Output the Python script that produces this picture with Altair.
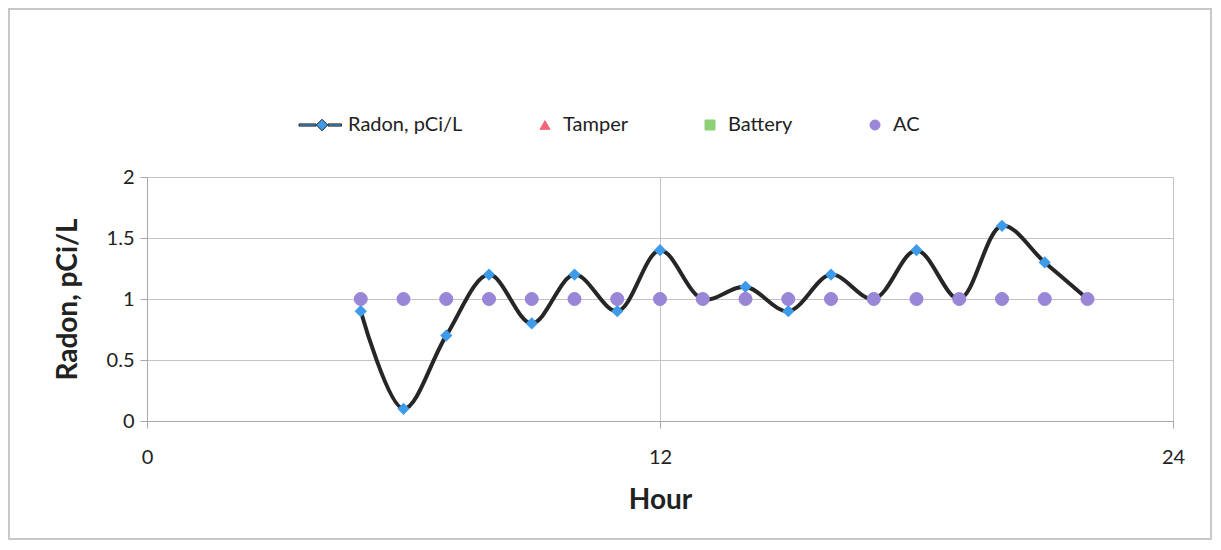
import altair as alt
import pandas as pd

# ---- data ----
hours = [5, 6, 7, 8, 9, 10, 11, 12, 13, 14, 15, 16, 17, 18, 19, 20, 21, 22]
radon = [0.9, 0.1, 0.7, 1.2, 0.8, 1.2, 0.9, 1.4, 1.0, 1.1, 0.9, 1.2, 1.0, 1.4, 1.0, 1.6, 1.3, 1.0]
ac = [1.0, 1.0, 1.0, 1.0, 1.0, 1.0, 1.0, 1.0, 1.0, 1.0, 1.0, 1.0, 1.0, 1.0, 1.0, 1.0, 1.0, 1.0]
series_names = ["Radon, pCi/L", "Tamper", "Battery", "AC"]
x_ticks = [0, 12, 24]
y_ticks = [0, 0.5, 1, 1.5, 2]

# ---- styles ----
BLUE = "#3d9be9"
PINK = "#f4657a"
GREEN = "#8fcf78"
PURPLE = "#9a86d6"
LINE = "#262626"
series_colors = [BLUE, PINK, GREEN, PURPLE]
series_strokes = [LINE, PINK, GREEN, PURPLE]
radon_symbol = ("M-6.2,-0.22L-2.8,-0.22L-2.8,0.22L-6.2,0.22Z "
                "M-0.4,-0.22L2.3,-0.22L2.3,0.22L-0.4,0.22Z "
                "M-1.6,-1.15L-0.45,0L-1.6,1.15L-2.75,0Z")
series_shapes = [radon_symbol, "triangle-up", "square", "circle"]
FONT = "Lato"

radon_df = pd.DataFrame({"hour": hours, "value": radon, "series": series_names[0]})
ac_df = pd.DataFrame({"hour": hours, "value": ac, "series": series_names[3]})

x_enc = alt.X(
    "hour:Q",
    scale=alt.Scale(domain=[0, 24], nice=False, zero=False),
    axis=alt.Axis(values=x_ticks, title="Hour", format="d", labelFlush=False),
)
y_enc = alt.Y(
    "value:Q",
    scale=alt.Scale(domain=[0, 2], nice=False),
    axis=alt.Axis(values=y_ticks, title="Radon, pCi/L", format="~g"),
)

line = alt.Chart(radon_df).mark_line(
    interpolate="catmull-rom", color=LINE, strokeWidth=4
).encode(x=x_enc, y=y_enc)

radon_pts = alt.Chart(radon_df).mark_point(
    filled=True, shape="diamond", size=150, opacity=1, color=BLUE
).encode(x=x_enc, y=y_enc)

leg = alt.Legend(
    title=None,
    orient="none",
    legendX=173,
    legendY=-62,
    direction="horizontal",
    labelFont=FONT,
    labelFontSize=20,
    labelColor="#222222",
    symbolSize=100,
    symbolStrokeWidth=1,
    symbolOpacity=1,
    labelOffset=8,
    columnPadding=72,
)

ac_pts = alt.Chart(ac_df).mark_point(
    filled=True, size=170, opacity=1, strokeWidth=1
).encode(
    x=x_enc,
    y=y_enc,
    fill=alt.Fill("series:N", scale=alt.Scale(domain=series_names, range=series_colors), legend=leg),
    stroke=alt.Stroke("series:N", scale=alt.Scale(domain=series_names, range=series_strokes), legend=leg),
    shape=alt.Shape("series:N", scale=alt.Scale(domain=series_names, range=series_shapes), legend=leg),
)

frame = alt.Chart(radon_df).mark_rect(
    fill="transparent", stroke="#c8c8c8", strokeWidth=1.5
).encode(
    x=alt.value(-138), x2=alt.value(1064), y=alt.value(-168), y2=alt.value(362)
)

chart = alt.layer(line, radon_pts, ac_pts, frame).properties(
    width=1026,
    height=244,
    autosize=alt.AutoSizeParams(type="none"),
    padding={"left": 139, "top": 169, "right": 40, "bottom": 121},
    background="white",
).configure_view(
    stroke="#bdbdbd", strokeWidth=1
).configure_axis(
    labelFont=FONT,
    labelFontSize=20,
    labelColor="#222222",
    titleFont=FONT,
    titleFontSize=28,
    titleFontWeight="bold",
    titleColor="#222222",
    gridColor="#c4c4c4",
    gridWidth=1,
    domainColor="#a8a8a8",
    tickColor="#a8a8a8",
    tickSize=7,
).configure_axisX(
    labelPadding=19,
    titlePadding=19,
).configure_axisY(
    labelPadding=6,
    titlePadding=24,
)

chart.save("out.html", embed_options={"renderer": "svg", "actions": False})
